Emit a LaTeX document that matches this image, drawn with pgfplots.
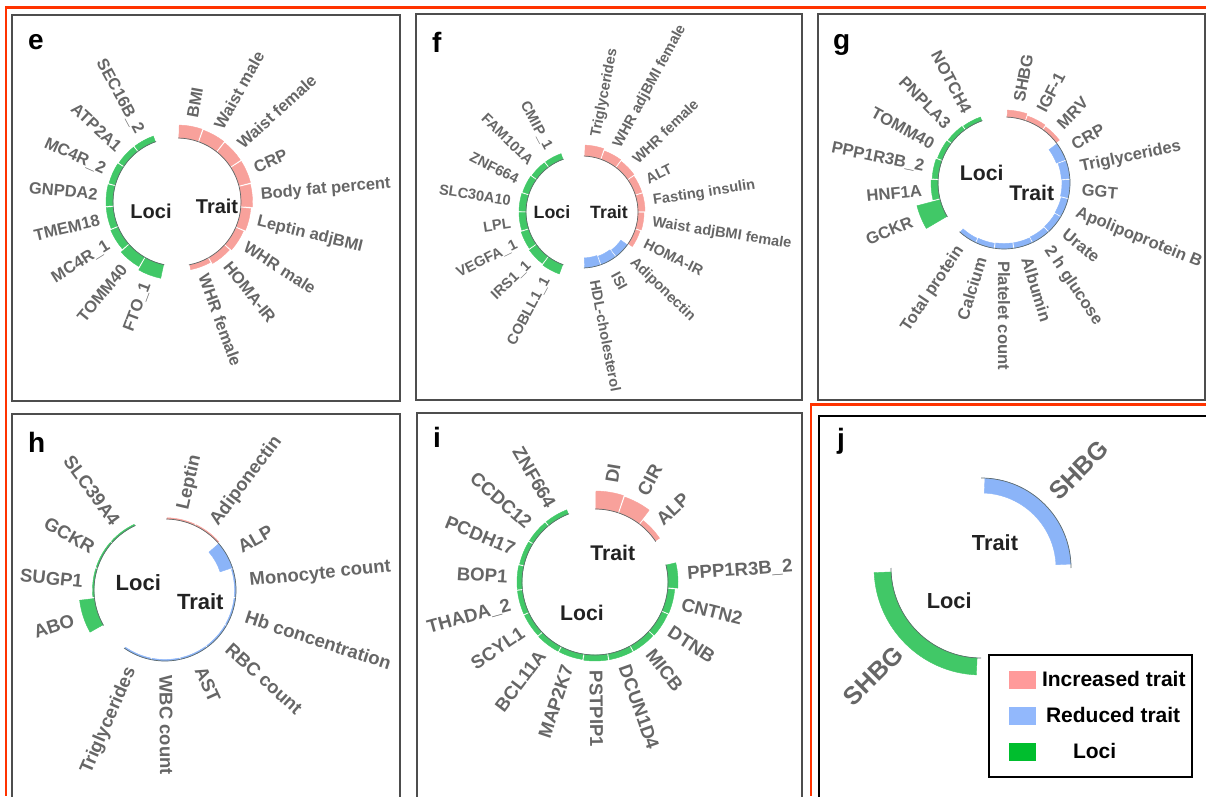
\documentclass[border=0pt]{standalone}
\usepackage{fontspec}
\setmainfont{Liberation Sans}
\usepackage{pgfplots}
\usepackage{pgfplotstable}
\usetikzlibrary{calc}
\pgfplotsset{compat=1.18}

\definecolor{locigreen}{HTML}{41C867}
\definecolor{incpink}{HTML}{F8A19B}
\definecolor{redblue}{HTML}{8BB4F8}
\definecolor{legpink}{HTML}{FF9A9A}
\definecolor{legblue}{HTML}{92B8FC}
\definecolor{leggreen}{HTML}{00BE2E}
\definecolor{labgray}{HTML}{666666}
\definecolor{framegray}{HTML}{4D4D4D}
\definecolor{basegray}{HTML}{5F6B6B}
\definecolor{figred}{HTML}{FF3300}
\definecolor{ctrtext}{HTML}{222222}

\protected\def\us{\textunderscore}
\newcommand\ctrfont[1]{\fontsize{#1}{#1}\selectfont\bfseries}

% segment tables: mid angle, slot width (deg), base radius, signed height, class (0 loci, 1 increased, 2 reduced), label
\pgfplotstableread[col sep=comma]{
th,w,rb,t,c,lab
79.7,18.7,64,13,1,BMI
61.0,18.7,64,12.5,1,Waist male
42.3,18.7,64,12,1,Waist female
23.6,18.7,64,12,1,CRP
4.9,18.7,64,11.5,1,Body fat percent
-13.8,18.7,64,10,1,Leptin adjBMI
-32.5,18.7,64,8.5,1,WHR male
-51.2,18.7,64,7,1,HOMA-IR
-69.9,18.7,64,5,1,WHR female
118.4,18.7,64,6,0,SEC16B\us{}2
137.1,18.7,64,6,0,ATP2A1
155.8,18.7,64,6.5,0,MC4R\us{}2
174.5,18.7,64,7,0,GNPDA2
193.2,18.7,64,7,0,TMEM18
211.9,18.7,64,8,0,MC4R\us{}1
230.6,18.7,64,11,0,TOMM40
249.3,18.7,64,14,0,FTO\us{}1
}\tabE

\pgfplotstableread[col sep=comma]{
th,w,rb,t,c,lab
79.2,17.6,56,11,1,Triglycerides
61.6,17.6,56,9,1,WHR adjBMI female
44.0,17.6,56,8,1,WHR female
26.4,17.6,56,7,1,ALT
8.8,17.6,56,7,1,Fasting insulin
-8.8,17.6,56,6,1,Waist adjBMI female
-26.4,17.6,56,5,1,HOMA-IR
-44.0,17.6,56,-8,2,Adiponectin
-61.6,17.6,56,-9,2,ISI
-79.2,17.6,56,-10,2,HDL-cholesterol
117.9,17.7,56,6,0,CMIP\us{}1
135.6,17.7,56,6,0,FAM101A
153.3,17.7,56,6.5,0,ZNF664
171.0,17.7,56,7,0,SLC30A10
188.7,17.7,56,7,0,LPL
206.4,17.7,56,8,0,VEGFA\us{}1
224.1,17.7,56,9,0,IRS1\us{}1
241.8,17.7,56,10,0,COBLL1\us{}1
}\tabF

\pgfplotstableread[col sep=comma]{
th,w,rb,t,c,lab
79.5,16.95,66,7,1,SHBG
62.6,16.95,66,5,1,IGF-1
45.6,16.95,66,4,1,MRV
28.7,16.95,66,-10,2,CRP
11.7,16.95,66,-8.5,2,Triglycerides
-5.2,16.95,66,-8,2,GGT
-22.2,16.95,66,-7,2,Apolipoprotein B
-39.1,16.95,66,-6.5,2,Urate
-56.1,16.95,66,-6,2,2 h glucose
-73.0,16.95,66,-5.5,2,Albumin
-90.0,16.95,66,-5.5,2,Platelet count
-107.0,16.95,66,-5,2,Calcium
-123.9,16.95,66,-4.5,2,Total protein
117.5,17,66,4,0,NOTCH4
134.5,17,66,4.5,0,PNPLA3
151.5,17,66,5,0,TOMM40
168.5,17,66,6,0,PPP1R3B\us{}2
185.5,17,66,7,0,HNF1A
202.5,17,66,24,0,GCKR
}\tabG

\pgfplotstableread[col sep=comma]{
th,w,rb,t,c,lab
77.1,23.8,71,1.3,1,Leptin
53.3,23.8,71,1.3,1,Adiponectin
29.5,23.8,71,-13,2,ALP
5.7,23.8,71,-1.5,2,Monocyte count
-18.1,23.8,71,-1.5,2,Hb concentration
-41.9,23.8,71,-1.5,2,RBC count
-65.7,23.8,71,-1.5,2,AST
-89.5,23.8,71,-1.5,2,WBC count
-113.3,23.8,71,-1.5,2,Triglycerides
126.4,23.8,71,1.5,0,SLC39A4
150.3,23.8,71,1.5,0,GCKR
174.2,23.8,71,1.5,0,SUGP1
198.1,23.8,71,15,0,ABO
}\tabH

\pgfplotstableread[col sep=comma]{
th,w,rb,t,c,lab
80.6,18.8,73,18,1,DI
61.8,18.8,73,17,1,CIR
43.0,18.8,73,5,1,ALP
4.6,18.8,73,10,0,PPP1R3B\us{}2
-14.2,18.8,73,7,0,CNTN2
-33.0,18.8,73,6.5,0,DTNB
-51.8,18.8,73,6,0,MICB
-70.6,18.8,73,6,0,DCUN1D4
-89.4,18.8,73,6,0,PSTPIP1
-108.2,18.8,73,5.5,0,MAP2K7
-127.0,18.8,73,5.5,0,BCL11A
-145.8,18.8,73,5,0,SCYL1
-164.6,18.8,73,5,0,THADA\us{}2
176.6,18.8,73,5,0,BOP1
157.8,18.8,73,4.5,0,PCDH17
139.0,18.8,73,4.5,0,CCDC12
120.2,18.8,73,4.5,0,ZNF664
}\tabI

\pgfplotstableread[col sep=comma]{
th,w,rb,t,c,lab
45,90,90,-15,2,SHBG
225,90,90,17,0,SHBG
}\tabJ

% one annular segment, its base line and its radial label, drawn from the
% plotted point (angle, base radius); (\sgCx,\sgCy) is the circle centre
\newcommand\drawsegment{%
  \pgfmathsetmacro\sgB{\sgA+180}%
  \pgfmathsetmacro\sgCx{-\sgR*cos(\sgA)}%
  \pgfmathsetmacro\sgCy{-\sgR*sin(\sgA)}%
  \pgfmathsetmacro\sgP{\sgA+\sgW/2}%
  \pgfmathsetmacro\sgQ{\sgA-\sgW/2}%
  \pgfmathsetmacro\sgPg{\sgP-\sgGap/2}%
  \pgfmathsetmacro\sgQg{\sgQ+\sgGap/2}%
  \pgfmathsetmacro\sgO{\sgR+\sgT}%
  \ifcase\sgC\relax\def\sgCol{locigreen}\or\def\sgCol{incpink}\else\def\sgCol{redblue}\fi
  \fill[\sgCol] ($(\sgCx pt,\sgCy pt)+(\sgPg:\sgR pt)$) arc[start angle=\sgPg,end angle=\sgQg,radius=\sgR pt]
    -- ($(\sgCx pt,\sgCy pt)+(\sgQg:\sgO pt)$) arc[start angle=\sgQg,end angle=\sgPg,radius=\sgO pt] -- cycle;
  \draw[basegray,line width=0.7pt] ($(\sgCx pt,\sgCy pt)+(\sgP:\sgR pt)$) arc[start angle=\sgP,end angle=\sgQ,radius=\sgR pt];
  \pgfmathsetmacro\sgRL{\sgT>0 ? \sgO+\gOut : \sgR+\gIn}%
  \pgfmathtruncatemacro\sgRight{cos(\sgA)>-0.01 ? 1 : 0}%
  \ifnum\sgRight=1
    \node[font=\labfont,text=labgray,inner sep=0pt,anchor=west,rotate=\sgA] at ($(\sgCx pt,\sgCy pt)+(\sgA:\sgRL pt)$) {\sgL};%
  \else
    \node[font=\labfont,text=labgray,inner sep=0pt,anchor=east,rotate=\sgB] at ($(\sgCx pt,\sgCy pt)+(\sgA:\sgRL pt)$) {\sgL};%
  \fi}
\pgfdeclareplotmark{segment}{\drawsegment}

\pgfplotsset{
  segvals/.code n args={6}{\def\sgA{#1}\def\sgW{#2}\def\sgR{#3}\def\sgT{#4}\def\sgC{#5}\def\sgL{#6}},
  segplot/.style={only marks, mark=segment, forget plot, data cs=polar},
  panel/.style={x=1pt, y=1pt, anchor=south west, ticks=none, clip=false,
    axis line style={framegray, line width=1.1pt}},
}
\tikzset{
  ctr/.style={text=ctrtext, inner sep=0pt},
  letter/.style={font=\ctrfont{28}, anchor=base west, inner sep=0pt},
}

% one plotted point per table row, at (angle, base radius)
\newcommand\plotsegments[1]{%
  \pgfplotstablegetrowsof{#1}%
  \pgfmathtruncatemacro\sgN{\pgfplotsretval-1}%
  \pgfplotsforeachungrouped \k in {0,...,\sgN}{%
    \pgfplotstablegetelem{\k}{th}\of{#1}\let\vA\pgfplotsretval
    \pgfplotstablegetelem{\k}{w}\of{#1}\let\vW\pgfplotsretval
    \pgfplotstablegetelem{\k}{rb}\of{#1}\let\vR\pgfplotsretval
    \pgfplotstablegetelem{\k}{t}\of{#1}\let\vT\pgfplotsretval
    \pgfplotstablegetelem{\k}{c}\of{#1}\let\vC\pgfplotsretval
    \pgfplotstablegetelem{\k}{lab}\of{#1}\let\vL\pgfplotsretval
    \edef\sgCmd{\noexpand\addplot[segplot, segvals={\vA}{\vW}{\vR}{\vT}{\vC}{\vL}]
      coordinates {(\vA,\vR)};}%
    \sgCmd
  }}

\begin{document}
\begin{tikzpicture}[x=1pt,y=1pt]
\useasboundingbox (0,0) rectangle (1206,796);

% e
\def\sgGap{1.4}\def\gOut{8.5}\def\gIn{13}%
\def\labfont{\fontsize{16.5}{19}\selectfont\bfseries}%
\begin{axis}[panel, at={(12,395)}, xmin=-165, xmax=223, ymin=-199, ymax=187]
\plotsegments{\tabE}
\node[letter] at (axis cs:-149,152) {e};
\node[ctr, font=\ctrfont{20}] at (axis cs:-26,-9) {Loci};
\node[ctr, font=\ctrfont{20}] at (axis cs:40,-4) {Trait};
\end{axis}

% f
\def\sgGap{1.5}\def\gOut{9}\def\gIn{13.5}%
\def\labfont{\fontsize{14.6}{17}\selectfont\bfseries}%
\begin{axis}[panel, at={(416,396)}, xmin=-166, xmax=220, ymin=-188, ymax=198]
\plotsegments{\tabF}
\node[letter] at (axis cs:-150,159) {f};
\node[ctr, font=\ctrfont{17.8}] at (axis cs:-30,0) {Loci};
\node[ctr, font=\ctrfont{17.8}] at (axis cs:27,0) {Trait};
\end{axis}

% g
\def\sgGap{1.3}\def\gOut{9.5}\def\gIn{12}%
\def\labfont{\fontsize{16.6}{19}\selectfont\bfseries}%
\begin{axis}[panel, at={(818,396)}, xmin=-186, xmax=201, ymin=-217, ymax=169]
\plotsegments{\tabG}
\node[letter] at (axis cs:-171,133) {g};
\node[ctr, font=\ctrfont{21.2}] at (axis cs:-22.3,10.5) {Loci};
\node[ctr, font=\ctrfont{21.2}] at (axis cs:27.7,-10.3) {Trait};
\end{axis}

% h
\def\sgGap{1.3}\def\gOut{10}\def\gIn{14}%
\def\labfont{\fontsize{18.5}{21}\selectfont\bfseries}%
\begin{axis}[panel, at={(12,-14)}, xmin=-153, xmax=235, ymin=-220, ymax=176]
\plotsegments{\tabH}
\node[letter] at (axis cs:-137,138) {h};
\node[ctr, font=\ctrfont{22}] at (axis cs:-26.7,7.5) {Loci};
\node[ctr, font=\ctrfont{22}] at (axis cs:35.3,-12) {Trait};
\end{axis}

% i
\def\sgGap{1.2}\def\gOut{9.5}\def\gIn{13}%
\def\labfont{\fontsize{18.6}{21}\selectfont\bfseries}%
\begin{axis}[panel, at={(417,-14)}, xmin=-178, xmax=207, ymin=-228, ymax=169]
\plotsegments{\tabI}
\node[letter] at (axis cs:-162,135) {i};
\node[ctr, font=\ctrfont{21.2}] at (axis cs:17.8,28.8) {Trait};
\node[ctr, font=\ctrfont{21.2}] at (axis cs:-13,-31.2) {Loci};
\end{axis}

% j
\def\sgGap{5}\def\gOut{9}\def\gIn{12}%
\def\labfont{\fontsize{25}{28}\selectfont\bfseries}%
\begin{axis}[panel, at={(819,-14)}, xmin=-162, xmax=231, ymin=-242, ymax=152,
  axis line style={black, line width=1.1pt},
  legend style={at={(axis cs:7,-86)}, anchor=north west, draw=black, line width=2pt,
    fill=white, font=\ctrfont{21}, inner xsep=6pt, inner ysep=16pt,
    row sep=18pt, column sep=6pt, nodes={inner sep=0pt}},
  legend cell align=left,
  legend image code/.code={\path (0pt,0pt); \fill[#1] (14pt,-9pt) rectangle (41pt,9pt);}]
\plotsegments{\tabJ}
\node[letter] at (axis cs:-144,120) {j};
\node[ctr, font=\ctrfont{21.8}] at (axis cs:14,25) {Trait};
\node[ctr, font=\ctrfont{21.8}] at (axis cs:-31.8,-33.2) {Loci};
\addlegendimage{fill=legpink, draw=none}\addlegendentry{Increased trait}
\addlegendimage{fill=legblue, draw=none}\addlegendentry{\hspace*{4pt}Reduced trait}
\addlegendimage{fill=leggreen, draw=none}\addlegendentry{\hspace*{31pt}Loci}
\end{axis}

% outer frame lines
\draw[figred, line width=2.5pt] (1206,788.4) -- (6.2,788.4) -- (6.2,0);
\draw[figred, line width=2.5pt] (1206,391.7) -- (811.2,391.7) -- (811.2,0);
\end{tikzpicture}
\end{document}
